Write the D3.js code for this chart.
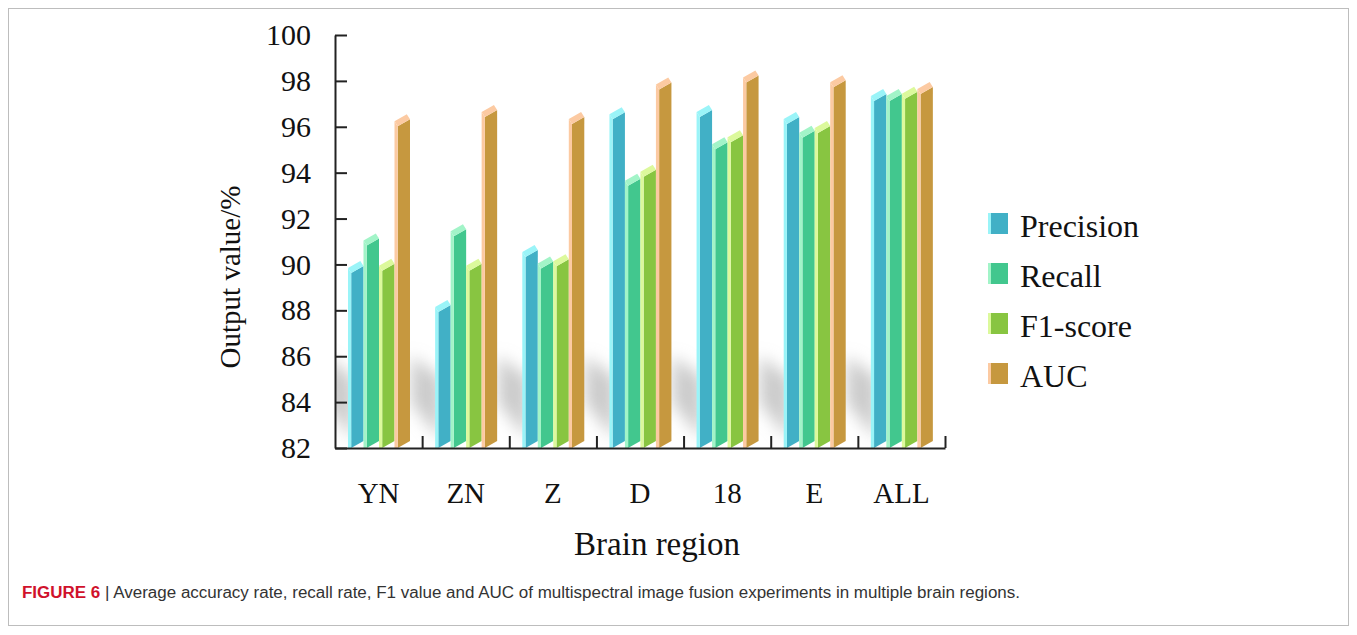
<!DOCTYPE html>
<html>
<head>
<meta charset="utf-8">
<script src="https://cdn.jsdelivr.net/npm/d3@7"></script>
<style>
  body { margin: 0; background: #fff; }
  svg { display: block; }
</style>
</head>
<body>
<div id="chart"></div>
<script>
// data
var regions = ["YN", "ZN", "Z", "D", "18", "E", "ALL"];
var metrics = ["Precision", "Recall", "F1-score", "AUC"];
var precision = [89.8, 88.1, 90.5, 96.5, 96.6, 96.3, 97.3];
var recall    = [91.0, 91.4, 90.0, 93.6, 95.2, 95.7, 97.3];
var f1score   = [89.9, 89.9, 90.1, 94.0, 95.5, 95.9, 97.4];
var auc       = [96.2, 96.6, 96.3, 97.8, 98.1, 97.9, 97.6];
var yTicks = [82, 84, 86, 88, 90, 92, 94, 96, 98, 100];

var series = [precision, recall, f1score, auc];
var frontColor = ["#41b0c6", "#42c78e", "#88c541", "#c6983f"];
var lightColor = ["#9af4f8", "#a2f4c8", "#dcf99c", "#fccaa2"];

var W = 1357, H = 635;
var serif = "'Liberation Serif', 'Times New Roman', serif";

var svg = d3.select("#chart").append("svg")
    .attr("width", W)
    .attr("height", H);

// figure frame
svg.append("rect")
    .attr("x", 8.5).attr("y", 8.5)
    .attr("width", 1340).attr("height", 617)
    .attr("fill", "none")
    .attr("stroke", "#bdbdbd");

var defs = svg.append("defs");
defs.append("filter").attr("id", "blur")
    .attr("x", "-50%").attr("y", "-50%").attr("width", "200%").attr("height", "200%")
  .append("feGaussianBlur").attr("stdDeviation", 8);
defs.append("clipPath").attr("id", "plot")
  .append("rect")
    .attr("x", 336).attr("y", 35)
    .attr("width", 609).attr("height", 412);

// scales
var y = d3.scaleLinear().domain([82, 100]).range([448, 35]);
var x = d3.scaleBand().domain(regions).range([335, 945]);
var xIdx = d3.scaleLinear().domain([0, regions.length]).range([335, 945]);
var x1 = d3.scaleBand().domain(metrics).range([13, 75]);

var bw = x1.bandwidth();
var side = 3.2;     // light left face
var rise = 7;       // slant of the front face
var dz = 5;         // depth of the top cap

// soft floor shadows behind each group
svg.append("g")
    .attr("clip-path", "url(#plot)")
  .append("g")
    .attr("filter", "url(#blur)")
    .selectAll("path")
    .data(regions)
    .enter()
    .append("path")
    .attr("d", function(d) {
        var gx = x(d) + x1("Precision");
        return "M" + (gx + 6) + "," + (y(82) - 8) +
               "L" + (gx + 6) + "," + (y(82) - 70) +
               "L" + (gx - 24) + "," + (y(82) - 92) +
               "L" + (gx - 24) + "," + (y(82) - 45) + "Z";
    })
    .attr("fill", "#a8a8a8")
    .attr("opacity", 0.6);

// bars
var cells = [];
regions.forEach(function(r, i) {
    metrics.forEach(function(m, j) {
        cells.push({region: r, metric: m, k: j, value: series[j][i]});
    });
});

var bars = svg.append("g").selectAll("g")
    .data(cells)
    .enter()
    .append("g");

function px(d) { return x(d.region) + x1(d.metric); }

// front face
bars.append("path")
    .attr("d", function(d) {
        var x0 = px(d), yv = y(d.value), yb = y(82);
        return "M" + (x0 + side) + "," + yb +
               "L" + (x0 + bw) + "," + (yb - rise) +
               "L" + (x0 + bw) + "," + (yv + 4 - rise) +
               "L" + (x0 + side) + "," + (yv + 4) + "Z";
    })
    .attr("fill", function(d) { return frontColor[d.k]; });

// left face
bars.append("path")
    .attr("d", function(d) {
        var x0 = px(d), yv = y(d.value), yb = y(82);
        return "M" + x0 + "," + yb +
               "L" + (x0 + side) + "," + yb +
               "L" + (x0 + side) + "," + (yv + 4) +
               "L" + x0 + "," + (yv + 4 - dz) + "Z";
    })
    .attr("fill", function(d) { return lightColor[d.k]; });

// top cap
bars.append("path")
    .attr("d", function(d) {
        var x0 = px(d), yv = y(d.value);
        return "M" + (x0 + side) + "," + (yv + 4) +
               "L" + (x0 + bw) + "," + (yv + 4 - rise) +
               "L" + (x0 + bw - side) + "," + (yv + 4 - rise - dz) +
               "L" + x0 + "," + (yv + 4 - dz) + "Z";
    })
    .attr("fill", function(d) { return lightColor[d.k]; });

// y axis
var yAxis = svg.append("g")
    .attr("transform", "translate(335,0)")
    .call(d3.axisLeft(y).tickValues(yTicks).tickFormat(d3.format("d"))
        .tickSizeInner(-12).tickSizeOuter(0).tickPadding(24));
yAxis.select(".domain").attr("stroke", "#222").attr("stroke-width", 2);
yAxis.selectAll(".tick line").attr("stroke", "#222").attr("stroke-width", 2);
yAxis.selectAll("text")
    .attr("font-family", serif)
    .attr("font-size", "30px")
    .attr("fill", "#111");

// x axis: ticks between groups
var xTickAxis = svg.append("g")
    .attr("transform", "translate(0,448)")
    .call(d3.axisBottom(xIdx).tickValues(d3.range(1, regions.length + 1))
        .tickSizeInner(-12).tickSizeOuter(0).tickFormat(""));
xTickAxis.select(".domain").attr("stroke", "#222").attr("stroke-width", 2);
xTickAxis.selectAll(".tick line").attr("stroke", "#222").attr("stroke-width", 2);

// x axis labels
var xLab = svg.append("g")
    .attr("transform", "translate(0,448)")
    .call(d3.axisBottom(x).tickSize(0).tickPadding(34));
xLab.select(".domain").remove();
xLab.selectAll("text")
    .attr("font-family", serif)
    .attr("font-size", "29px")
    .attr("fill", "#111");

// axis titles
svg.append("text")
    .attr("transform", "translate(240,277) rotate(-90)")
    .attr("text-anchor", "middle")
    .attr("font-family", serif)
    .attr("font-size", "29px")
    .attr("fill", "#111")
    .text("Output value/%");

svg.append("text")
    .attr("x", 657)
    .attr("y", 555)
    .attr("text-anchor", "middle")
    .attr("font-family", serif)
    .attr("font-size", "33px")
    .attr("fill", "#111")
    .text("Brain region");

// legend
var legend = svg.append("g").selectAll("g")
    .data(metrics)
    .enter()
    .append("g")
    .attr("transform", function(d, i) { return "translate(988," + (213 + i * 50) + ")"; });

legend.append("rect")
    .attr("width", 20).attr("height", 21)
    .attr("fill", function(d, i) { return frontColor[i]; });
legend.append("rect")
    .attr("width", 3).attr("height", 21)
    .attr("fill", function(d, i) { return lightColor[i]; });
legend.append("text")
    .attr("x", 32)
    .attr("y", 23.5)
    .attr("font-family", serif)
    .attr("font-size", "32px")
    .attr("fill", "#111")
    .text(function(d) { return d; });

// caption
var cap = svg.append("text")
    .attr("x", 22)
    .attr("y", 598)
    .attr("font-family", "'Liberation Sans Narrow', 'Liberation Sans', Arial, sans-serif")
    .attr("font-size", "16px")
    .attr("fill", "#333")
    .attr("textLength", 998)
    .attr("lengthAdjust", "spacingAndGlyphs");
cap.append("tspan")
    .attr("font-weight", "bold")
    .attr("fill", "#d0112b")
    .text("FIGURE 6");
cap.append("tspan")
    .text(" | Average accuracy rate, recall rate, F1 value and AUC of multispectral image fusion experiments in multiple brain regions.");
</script>
</body>
</html>
